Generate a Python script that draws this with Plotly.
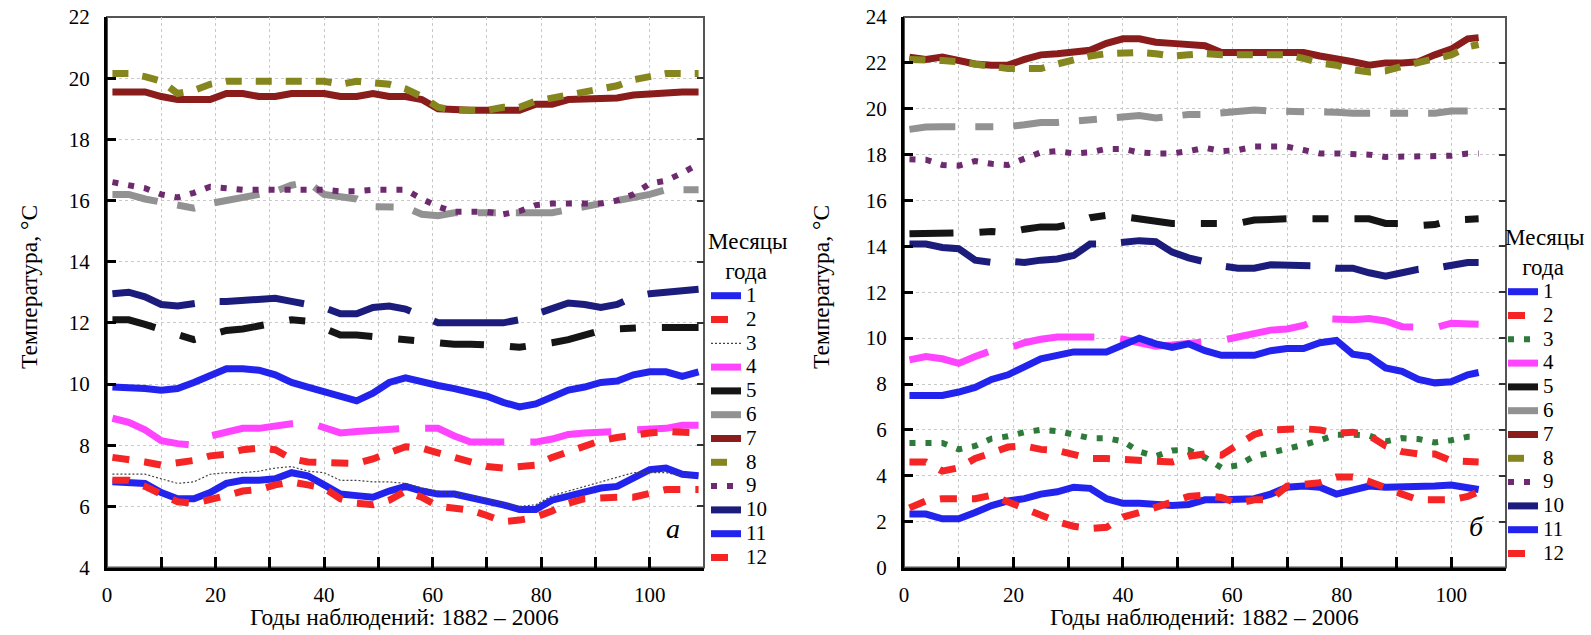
import plotly.graph_objects as go

# ---------------- data ----------------
months = ["1", "2", "3", "4", "5", "6", "7", "8", "9", "10", "11", "12"]

# panel a: observation year index
years_a = [1, 4, 7, 10, 13, 16, 19, 22, 25, 28, 31, 34, 37, 40, 43, 46, 49, 52, 55,
           58, 61, 64, 67, 70, 73, 76, 79, 82, 85, 88, 91, 94, 97, 100, 103, 106, 109]

a_m1 = [6.8, 6.8, 6.75, 6.45, 6.25, 6.25, 6.45, 6.75, 6.85, 6.85, 6.9, 7.1, 7.0, 6.7, 6.4, 6.35, 6.3, 6.5, 6.65,
        6.5, 6.4, 6.4, 6.3, 6.15, 6.05, 5.9, 5.9, 6.2, 6.35, 6.5, 6.6, 6.65, 6.95, 7.2, 7.25, 7.05, 7.0]
a_m2 = [6.85, 6.85, 6.65, 6.4, 6.15, 6.1, 6.2, 6.35, 6.5, 6.55, 6.7, 6.8, 6.7, 6.6, 6.25, 6.1, 6.05, 6.2, 6.5,
        6.3, 6.0, 5.95, 5.88, 5.7, 5.5, 5.55, 5.65, 5.85, 6.1, 6.25, 6.3, 6.3, 6.3, 6.4, 6.55, 6.55, 6.55]
a_m3 = [7.05, 7.05, 7.05, 6.9, 6.75, 6.8, 7.05, 7.1, 7.1, 7.15, 7.25, 7.3, 7.15, 7.1, 6.85, 6.85, 6.8, 6.8, 6.75,
        6.6, 6.5, 6.4, 6.35, 6.25, 6.1, 6.0, 6.05, 6.35, 6.5, 6.65, 6.8, 6.95, 7.1, 7.1, 7.1, 7.0, 7.0]
a_m4 = [8.88, 8.75, 8.5, 8.15, 8.05, 8.0, 8.3, 8.45, 8.55, 8.55, 8.65, 8.7, 8.75, 8.55, 8.4, 8.45, 8.5, 8.5, 8.55,
        8.55, 8.55, 8.3, 8.1, 8.1, 8.1, 8.1, 8.1, 8.2, 8.35, 8.4, 8.4, 8.45, 8.5, 8.5, 8.55, 8.65, 8.65]
a_m5 = [12.1, 12.1, 11.95, 11.8, 11.6, 11.45, 11.6, 11.75, 11.8, 11.9, 11.95, 12.1, 12.05, 11.8, 11.6, 11.6, 11.55,
        11.45, 11.45, 11.4, 11.35, 11.3, 11.3, 11.3, 11.25, 11.2, 11.25, 11.35, 11.45, 11.6, 11.75, 11.8, 11.85,
        11.85, 11.85, 11.85, 11.85]
a_m6 = [16.2, 16.2, 16.05, 15.95, 15.8, 15.75, 15.9, 16.0, 16.15, 16.2, 16.3, 16.5, 16.6, 16.2, 16.1, 16.05, 15.8,
        15.78, 15.78, 15.55, 15.5, 15.6, 15.6, 15.65, 15.65, 15.6, 15.6, 15.6, 15.7, 15.8, 15.9, 16.0, 16.05, 16.2,
        16.35, 16.35, 16.35]
a_m7 = [19.55, 19.55, 19.55, 19.4, 19.3, 19.3, 19.3, 19.5, 19.5, 19.4, 19.4, 19.5, 19.5, 19.5, 19.4, 19.4, 19.5,
        19.4, 19.4, 19.3, 19.0, 18.95, 18.95, 18.95, 18.95, 18.95, 19.15, 19.15, 19.3, 19.3, 19.3, 19.35, 19.45,
        19.5, 19.55, 19.55, 19.55]
a_m8 = [20.15, 20.15, 20.05, 19.9, 19.5, 19.6, 19.8, 19.9, 19.9, 19.9, 19.9, 19.9, 19.9, 19.9, 19.8, 19.9, 19.85,
        19.8, 19.65, 19.4, 19.05, 18.95, 18.95, 18.95, 19.05, 19.05, 19.25, 19.35, 19.45, 19.5, 19.65, 19.75, 19.95,
        20.05, 20.15, 20.15, 20.15]
a_m9 = [16.6, 16.5, 16.4, 16.2, 16.1, 16.25, 16.45, 16.4, 16.35, 16.35, 16.35, 16.35, 16.35, 16.35, 16.3, 16.3,
        16.35, 16.35, 16.35, 16.05, 15.8, 15.63, 15.63, 15.63, 15.55, 15.65, 15.85, 15.9, 15.9, 15.9, 15.9, 16.0,
        16.2, 16.55, 16.65, 16.9, 17.2]
a_m10 = [12.95, 13.0, 12.85, 12.6, 12.55, 12.65, 12.7, 12.7, 12.75, 12.8, 12.8, 12.7, 12.6, 12.5, 12.3, 12.3, 12.5,
         12.55, 12.45, 12.2, 12.0, 12.0, 12.0, 12.0, 12.0, 12.1, 12.3, 12.45, 12.65, 12.6, 12.5, 12.6, 12.85, 12.95,
         13.0, 13.0, 13.1]
a_m11 = [9.9, 9.9, 9.85, 9.8, 9.85, 10.05, 10.3, 10.5, 10.5, 10.45, 10.3, 10.05, 9.9, 9.75, 9.6, 9.45, 9.7, 10.05,
         10.2, 10.05, 9.95, 9.85, 9.75, 9.6, 9.4, 9.25, 9.35, 9.6, 9.8, 9.9, 10.05, 10.1, 10.3, 10.4, 10.4, 10.25,
         10.4]
a_m12 = [7.6, 7.55, 7.45, 7.35, 7.4, 7.5, 7.65, 7.7, 7.85, 7.9, 7.85, 7.55, 7.45, 7.45, 7.4, 7.4, 7.55, 7.75, 7.95,
         7.9, 7.75, 7.6, 7.4, 7.3, 7.25, 7.3, 7.35, 7.6, 7.8, 8.0, 8.15, 8.25, 8.35, 8.4, 8.45, 8.45, 8.4]

# panel b
years_b = [1, 4, 7, 10, 13, 16, 19, 22, 25, 28, 31, 34, 37, 40, 43, 46, 49, 52, 55,
           58, 61, 64, 67, 70, 73, 76, 79, 82, 85, 88, 91, 94, 97, 100, 103, 105]

b_m1 = [2.33, 2.33, 2.12, 2.12, 2.4, 2.7, 2.9, 3.0, 3.2, 3.3, 3.5, 3.45, 3.0, 2.8, 2.8, 2.75, 2.7, 2.75, 2.95,
        2.95, 3.0, 3.0, 3.2, 3.5, 3.55, 3.5, 3.2, 3.4, 3.55, 3.5, 3.5, 3.5, 3.55, 3.6, 3.5, 3.4]
b_m2 = [2.6, 2.9, 3.0, 3.0, 3.0, 3.15, 2.85, 2.6, 2.3, 2.0, 1.8, 1.7, 1.75, 2.2, 2.4, 2.6, 2.85, 3.1, 3.15,
        3.05, 2.8, 2.95, 2.95, 3.55, 3.6, 3.7, 3.95, 3.95, 3.75, 3.45, 3.2, 2.95, 2.95, 2.95, 3.1, 3.3]
b_m3 = [5.43, 5.43, 5.43, 5.15, 5.3, 5.62, 5.72, 5.9, 6.0, 5.95, 5.78, 5.64, 5.64, 5.5, 5.05, 4.85, 5.1, 5.12, 4.8,
        4.35, 4.45, 4.85, 5.0, 5.15, 5.35, 5.55, 5.79, 5.79, 5.75, 5.5, 5.64, 5.6, 5.45, 5.55, 5.7, 5.7]
b_m4 = [9.05, 9.2, 9.1, 8.9, 9.2, 9.45, 9.55, 9.8, 9.95, 10.05, 10.05, 10.05, 10.05, 9.95, 9.8, 9.65, 9.7, 9.75,
        9.8, 9.9, 10.05, 10.2, 10.35, 10.4, 10.55, 10.85, 10.8, 10.8, 10.85, 10.75, 10.5, 10.45, 10.45, 10.65,
        10.65, 10.6]
b_m5 = [14.55, 14.55, 14.55, 14.55, 14.6, 14.65, 14.6, 14.75, 14.85, 14.85, 15.0, 15.25, 15.35, 15.3, 15.2, 15.05,
        15.0, 15.0, 15.0, 15.0, 15.0, 15.15, 15.2, 15.2, 15.2, 15.2, 15.2, 15.2, 15.2, 15.0, 15.0, 14.9, 14.95,
        15.15, 15.2, 15.2]
b_m6 = [19.1, 19.2, 19.22, 19.22, 19.22, 19.22, 19.22, 19.3, 19.4, 19.4, 19.45, 19.55, 19.6, 19.65, 19.7, 19.6,
        19.7, 19.75, 19.75, 19.8, 19.9, 19.95, 19.9, 19.9, 19.9, 19.85, 19.85, 19.8, 19.8, 19.8, 19.8, 19.8, 19.8,
        19.9, 19.9, None]
b_m7 = [22.25, 22.15, 22.25, 22.1, 21.95, 21.9, 21.9, 22.15, 22.35, 22.4, 22.5, 22.55, 22.85, 23.05, 23.05, 22.9,
        22.85, 22.8, 22.75, 22.45, 22.45, 22.45, 22.45, 22.45, 22.45, 22.3, 22.2, 22.05, 21.9, 22.0, 22.0, 22.05,
        22.35, 22.6, 23.05, 23.1]
b_m8 = [22.15, 22.15, 22.1, 22.05, 21.95, 21.8, 21.75, 21.75, 21.75, 21.95, 22.15, 22.3, 22.4, 22.45, 22.45, 22.4,
        22.3, 22.35, 22.4, 22.35, 22.35, 22.4, 22.4, 22.35, 22.2, 22.0, 21.9, 21.7, 21.6, 21.65, 21.85, 22.0, 22.15,
        22.35, 22.7, 22.8]
b_m9 = [17.8, 17.78, 17.55, 17.52, 17.72, 17.6, 17.55, 17.8, 18.1, 18.15, 18.05, 18.1, 18.25, 18.25, 18.1, 18.05,
        18.05, 18.15, 18.3, 18.15, 18.2, 18.35, 18.35, 18.35, 18.2, 18.05, 18.05, 18.05, 18.0, 17.9, 17.9, 17.9,
        17.9, 17.95, 18.05, 18.05]
b_m10 = [14.1, 14.1, 13.95, 13.9, 13.4, 13.3, 13.35, 13.3, 13.4, 13.45, 13.6, 14.1, 14.1, 14.15, 14.25, 14.2,
         13.75, 13.5, 13.3, 13.15, 13.05, 13.05, 13.2, 13.2, 13.2, 13.15, 13.05, 13.05, 12.85, 12.7, 12.85, 13.0,
         13.05, 13.2, 13.3, 13.3]
b_m11 = [7.5, 7.5, 7.5, 7.65, 7.85, 8.2, 8.4, 8.75, 9.1, 9.25, 9.4, 9.4, 9.4, 9.7, 10.0, 9.75, 9.6, 9.75, 9.45,
         9.25, 9.25, 9.25, 9.45, 9.55, 9.55, 9.8, 9.9, 9.3, 9.2, 8.7, 8.55, 8.2, 8.05, 8.1, 8.4, 8.5]
b_m12 = [4.6, 4.6, 4.2, 4.35, 4.75, 5.0, 5.25, 5.3, 5.15, 5.1, 4.95, 4.75, 4.75, 4.7, 4.65, 4.6, 4.6, 4.85, 4.95,
         4.9, 5.35, 5.8, 6.0, 6.05, 6.05, 6.0, 5.85, 5.9, 5.75, 5.3, 5.05, 4.95, 4.95, 4.65, 4.6, 4.6]

series_a = [a_m1, a_m2, a_m3, a_m4, a_m5, a_m6, a_m7, a_m8, a_m9, a_m10, a_m11, a_m12]
series_b = [b_m1, b_m2, b_m3, b_m4, b_m5, b_m6, b_m7, b_m8, b_m9, b_m10, b_m11, b_m12]

y_title = "Температура, °C"
x_title = "Годы наблюдений: 1882 – 2006"
legend_title = "Месяцы<br>&nbsp;&nbsp;&nbsp;года"

# ---------------- styles ----------------
W = 1591
H = 635
FONT = "Liberation Serif, Times New Roman, DejaVu Serif, serif"

style_common = [
    dict(color="#2323ee", width=7, dash="solid"),                 # 1
    dict(color="#f52525", width=7, dash="17px,15px"),             # 2
    None,                                                         # 3 (panel specific)
    dict(color="#ff44ff", width=7, dash="82px,26px"),             # 4
    dict(color="#151515", width=7, dash="44px,26px,16px,26px"),   # 5
    dict(color="#929292", width=7, dash="46px,20px,18px,20px"),   # 6
    dict(color="#8a1c1c", width=7, dash="solid"),                 # 7
    dict(color="#86861e", width=7, dash="16px,14px"),             # 8
    dict(color="#6e2a6e", width=6, dash="6px,10px"),              # 9
    dict(color="#1c1c7c", width=7, dash="85px,25px"),             # 10
    dict(color="#2323ee", width=7, dash="solid"),                 # 11
    dict(color="#f52525", width=7, dash="17px,15px"),             # 12
]
style3_a = dict(color="#444444", width=1.2, dash="2px,2px")
style3_b = dict(color="#2e7a3a", width=6, dash="6px,10px")

fig = go.Figure()

for i, m in enumerate(months):
    st = style_common[i] if i != 2 else style3_a
    fig.add_trace(go.Scatter(
        x=years_a, y=series_a[i], mode="lines", line=st,
        name=f'<span style="font-size:21px">{m}</span>',
        legend="legend", xaxis="x", yaxis="y", connectgaps=False,
    ))
for i, m in enumerate(months):
    st = style_common[i] if i != 2 else style3_b
    fig.add_trace(go.Scatter(
        x=years_b, y=series_b[i], mode="lines", line=st,
        name=f'<span style="font-size:21px">{m}</span>',
        legend="legend2", xaxis="x2", yaxis="y2", connectgaps=False,
    ))

# empty traces for right-side mirror ticks
fig.add_trace(go.Scatter(x=[], y=[], xaxis="x", yaxis="y3", showlegend=False, hoverinfo="skip"))
fig.add_trace(go.Scatter(x=[], y=[], xaxis="x2", yaxis="y4", showlegend=False, hoverinfo="skip"))

GRID = "#c9c9c9"
TICKFONT = dict(family=FONT, size=21, color="black")


def xaxis_cfg(dom, anchor):
    return dict(
        domain=dom, range=[0, 110], tick0=0, dtick=20, anchor=anchor,
        ticks="inside", ticklen=11, tickwidth=3, tickcolor="black",
        showline=True, linewidth=3, linecolor="black",
        showgrid=True, gridcolor=GRID, griddash="dot", gridwidth=1,
        zeroline=False, ticklabelstandoff=6, tickfont=TICKFONT,
        minor=dict(tick0=0, dtick=10, ticks="inside", ticklen=11, tickwidth=3,
                   tickcolor="black", showgrid=True, gridcolor=GRID,
                   griddash="dot", gridwidth=1),
    )


def yaxis_cfg(rng, anchor):
    return dict(
        domain=[1 - 567.5 / H, 1 - 17 / H], range=rng, tick0=0, dtick=2, anchor=anchor,
        ticks="inside", ticklen=9, tickwidth=3, tickcolor="black",
        showline=True, linewidth=3, linecolor="black",
        showgrid=True, gridcolor=GRID, griddash="dot", gridwidth=1,
        zeroline=False, ticklabelstandoff=10, tickfont=TICKFONT,
    )


def mirror_cfg(rng, over, anchor):
    return dict(
        overlaying=over, anchor=anchor, side="right", range=rng, tick0=0, dtick=2,
        ticks="inside", ticklen=7, tickwidth=2, tickcolor="#333333",
        showticklabels=False, showgrid=False, showline=False, zeroline=False,
    )


xa_dom = [107 / W, 704 / W]
xb_dom = [904 / W, 1506 / W]

legend_common = dict(
    bgcolor="rgba(0,0,0,0)", borderwidth=0,
    font=dict(family=FONT, size=16, color="black"),
    itemwidth=30, tracegroupgap=0, xanchor="left", yanchor="top",
    traceorder="normal",
)
LEGTITLE = dict(text=legend_title, side="top", font=dict(family=FONT, size=23, color="black"))


def ann(text, x, y, size, angle=0, italic=False):
    return dict(text=f"<i>{text}</i>" if italic else text, textangle=angle,
                x=x / W, y=1 - y / H, xref="paper", yref="paper",
                xanchor="center", yanchor="middle", showarrow=False,
                font=dict(family=FONT, size=size, color="black"))


fig.update_layout(
    width=W, height=H,
    margin=dict(l=0, r=0, t=0, b=0, autoexpand=False),
    paper_bgcolor="white", plot_bgcolor="white",
    font=dict(family=FONT, size=21, color="black"),
    xaxis=xaxis_cfg(xa_dom, "y"),
    yaxis=yaxis_cfg([4, 22], "x"),
    xaxis2=xaxis_cfg(xb_dom, "y2"),
    yaxis2=yaxis_cfg([0, 24], "x2"),
    yaxis3=mirror_cfg([4, 22], "y", "x"),
    yaxis4=mirror_cfg([0, 24], "y2", "x2"),
    legend=dict(legend_common, x=706 / W, y=1 - 219 / H, title=LEGTITLE),
    legend2=dict(legend_common, x=1503 / W, y=1 - 215 / H, title=LEGTITLE),
    shapes=[
        dict(type="rect", xref="x domain", yref="y domain", x0=0, x1=1, y0=0, y1=1,
             line=dict(color="#555555", width=2), layer="below"),
        dict(type="rect", xref="x2 domain", yref="y2 domain", x0=0, x1=1, y0=0, y1=1,
             line=dict(color="#555555", width=2), layer="below"),
    ],
    annotations=[
        ann(y_title, 29, 287, 23.5, angle=-90),
        ann(y_title, 821, 287, 23.5, angle=-90),
        ann(x_title, 404, 617, 23.5),
        ann(x_title, 1204, 617, 23.5),
        ann("а", 673, 528, 28, italic=True),
        ann("б", 1476, 526, 28, italic=True),
    ],
)

fig.write_html("out.html")
